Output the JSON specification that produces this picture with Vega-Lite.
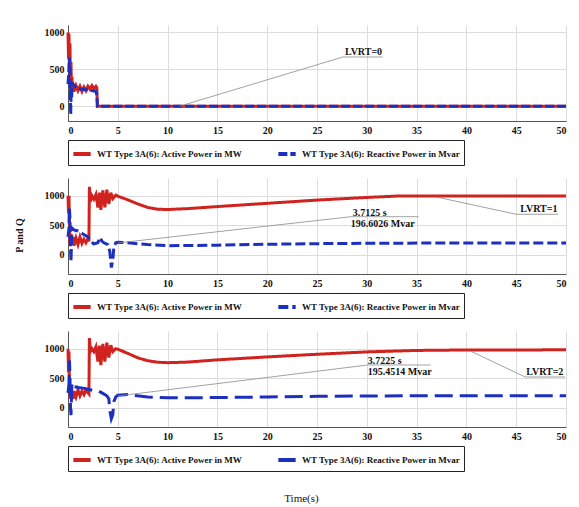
{
  "$schema": "https://vega.github.io/schema/vega-lite/v6.json",
  "padding": {"left": 14, "top": 25, "right": 5, "bottom": 5},
  "background": "white",
  "spacing": 12,
  "config": {
    "view": {"stroke": null},
    "font": "Liberation Serif",
    "axis": {
      "labelFont": "Liberation Serif", "labelFontWeight": "bold", "labelFontSize": 10, "labelColor": "#111",
      "domainColor": "#555", "gridColor": "#dcdcdc", "tickSize": 0, "format": "d",
      "titleFont": "Liberation Serif", "titleColor": "#111"
    },
    "axisX": {"labelPadding": 4},
    "axisY": {"labelPadding": 4},
    "legend": {
      "orient": "none", "legendX": 0, "legendY": 115, "direction": "horizontal", "title": null,
      "labelFont": "Liberation Serif", "labelFontWeight": "bold", "labelFontSize": 9, "labelColor": "#111", "labelLimit": 0,
      "symbolType": "stroke", "symbolSize": 300, "symbolStrokeWidth": 4, "labelOffset": 4,
      "strokeColor": "#222", "fillColor": "white", "padding": 3, "columnPadding": 27
    }
  },
  "datasets": {
    "lines": [
      {"p":1,"s":"P","t":0,"v":1000},{"p":1,"s":"P","t":0.05,"v":650},{"p":1,"s":"P","t":0.1,"v":980},{"p":1,"s":"P","t":0.15,"v":350},{"p":1,"s":"P","t":0.2,"v":850},{"p":1,"s":"P","t":0.25,"v":200},{"p":1,"s":"P","t":0.3,"v":600},{"p":1,"s":"P","t":0.35,"v":180},{"p":1,"s":"P","t":0.4,"v":400},{"p":1,"s":"P","t":0.45,"v":220},{"p":1,"s":"P","t":0.5,"v":320},{"p":1,"s":"P","t":0.6,"v":200},{"p":1,"s":"P","t":0.8,"v":280},{"p":1,"s":"P","t":1.0,"v":210},{"p":1,"s":"P","t":1.2,"v":270},{"p":1,"s":"P","t":1.4,"v":200},{"p":1,"s":"P","t":1.6,"v":260},{"p":1,"s":"P","t":1.8,"v":210},{"p":1,"s":"P","t":2.0,"v":270},{"p":1,"s":"P","t":2.2,"v":230},{"p":1,"s":"P","t":2.4,"v":280},{"p":1,"s":"P","t":2.6,"v":240},{"p":1,"s":"P","t":2.8,"v":270},{"p":1,"s":"P","t":2.9,"v":250},{"p":1,"s":"P","t":2.95,"v":0},{"p":1,"s":"P","t":50,"v":0},
      {"p":1,"s":"Q","t":0,"v":300},{"p":1,"s":"Q","t":0.08,"v":450},{"p":1,"s":"Q","t":0.13,"v":660},{"p":1,"s":"Q","t":0.18,"v":550},{"p":1,"s":"Q","t":0.22,"v":200},{"p":1,"s":"Q","t":0.27,"v":-110},{"p":1,"s":"Q","t":0.32,"v":250},{"p":1,"s":"Q","t":0.37,"v":120},{"p":1,"s":"Q","t":0.42,"v":320},{"p":1,"s":"Q","t":0.55,"v":280},{"p":1,"s":"Q","t":0.8,"v":260},{"p":1,"s":"Q","t":1.0,"v":240},{"p":1,"s":"Q","t":1.5,"v":230},{"p":1,"s":"Q","t":2.0,"v":220},{"p":1,"s":"Q","t":2.5,"v":210},{"p":1,"s":"Q","t":2.8,"v":200},{"p":1,"s":"Q","t":2.9,"v":150},{"p":1,"s":"Q","t":2.95,"v":0},{"p":1,"s":"Q","t":50,"v":0},
      {"p":2,"s":"P","t":0,"v":1000},{"p":2,"s":"P","t":0.05,"v":700},{"p":2,"s":"P","t":0.1,"v":1000},{"p":2,"s":"P","t":0.15,"v":400},{"p":2,"s":"P","t":0.2,"v":150},{"p":2,"s":"P","t":0.3,"v":350},{"p":2,"s":"P","t":0.4,"v":180},{"p":2,"s":"P","t":0.5,"v":300},{"p":2,"s":"P","t":0.6,"v":150},{"p":2,"s":"P","t":0.8,"v":280},{"p":2,"s":"P","t":1.0,"v":170},{"p":2,"s":"P","t":1.2,"v":300},{"p":2,"s":"P","t":1.4,"v":190},{"p":2,"s":"P","t":1.6,"v":260},{"p":2,"s":"P","t":1.8,"v":200},{"p":2,"s":"P","t":2.0,"v":270},{"p":2,"s":"P","t":2.1,"v":220},{"p":2,"s":"P","t":2.15,"v":1150},{"p":2,"s":"P","t":2.25,"v":900},{"p":2,"s":"P","t":2.4,"v":1000},{"p":2,"s":"P","t":2.6,"v":940},{"p":2,"s":"P","t":2.8,"v":1020},{"p":2,"s":"P","t":3.0,"v":800},{"p":2,"s":"P","t":3.15,"v":1050},{"p":2,"s":"P","t":3.3,"v":760},{"p":2,"s":"P","t":3.5,"v":1090},{"p":2,"s":"P","t":3.7,"v":800},{"p":2,"s":"P","t":3.9,"v":1100},{"p":2,"s":"P","t":4.1,"v":860},{"p":2,"s":"P","t":4.3,"v":1050},{"p":2,"s":"P","t":4.5,"v":950},{"p":2,"s":"P","t":4.8,"v":1010},{"p":2,"s":"P","t":5,"v":990},{"p":2,"s":"P","t":6,"v":930},{"p":2,"s":"P","t":7,"v":860},{"p":2,"s":"P","t":8,"v":800},{"p":2,"s":"P","t":9,"v":770},{"p":2,"s":"P","t":10,"v":765},{"p":2,"s":"P","t":12,"v":780},{"p":2,"s":"P","t":15,"v":815},{"p":2,"s":"P","t":20,"v":870},{"p":2,"s":"P","t":25,"v":925},{"p":2,"s":"P","t":30,"v":970},{"p":2,"s":"P","t":33,"v":993},{"p":2,"s":"P","t":40,"v":995},{"p":2,"s":"P","t":50,"v":995},
      {"p":2,"s":"Q","t":0,"v":300},{"p":2,"s":"Q","t":0.1,"v":450},{"p":2,"s":"Q","t":0.15,"v":780},{"p":2,"s":"Q","t":0.2,"v":600},{"p":2,"s":"Q","t":0.25,"v":100},{"p":2,"s":"Q","t":0.3,"v":-120},{"p":2,"s":"Q","t":0.35,"v":200},{"p":2,"s":"Q","t":0.4,"v":450},{"p":2,"s":"Q","t":0.6,"v":420},{"p":2,"s":"Q","t":1.0,"v":400},{"p":2,"s":"Q","t":1.5,"v":350},{"p":2,"s":"Q","t":2.0,"v":300},{"p":2,"s":"Q","t":2.3,"v":220},{"p":2,"s":"Q","t":2.6,"v":180},{"p":2,"s":"Q","t":3.0,"v":200},{"p":2,"s":"Q","t":3.2,"v":290},{"p":2,"s":"Q","t":3.4,"v":230},{"p":2,"s":"Q","t":3.6,"v":200},{"p":2,"s":"Q","t":4.0,"v":170},{"p":2,"s":"Q","t":4.2,"v":50},{"p":2,"s":"Q","t":4.35,"v":-220},{"p":2,"s":"Q","t":4.5,"v":-100},{"p":2,"s":"Q","t":4.6,"v":120},{"p":2,"s":"Q","t":4.8,"v":200},{"p":2,"s":"Q","t":5,"v":210},{"p":2,"s":"Q","t":6,"v":200},{"p":2,"s":"Q","t":8,"v":170},{"p":2,"s":"Q","t":10,"v":150},{"p":2,"s":"Q","t":15,"v":160},{"p":2,"s":"Q","t":20,"v":175},{"p":2,"s":"Q","t":25,"v":185},{"p":2,"s":"Q","t":30,"v":192},{"p":2,"s":"Q","t":40,"v":197},{"p":2,"s":"Q","t":50,"v":197},
      {"p":3,"s":"P","t":0,"v":1000},{"p":3,"s":"P","t":0.05,"v":600},{"p":3,"s":"P","t":0.1,"v":950},{"p":3,"s":"P","t":0.15,"v":300},{"p":3,"s":"P","t":0.2,"v":150},{"p":3,"s":"P","t":0.3,"v":300},{"p":3,"s":"P","t":0.4,"v":200},{"p":3,"s":"P","t":0.5,"v":150},{"p":3,"s":"P","t":0.6,"v":280},{"p":3,"s":"P","t":0.8,"v":180},{"p":3,"s":"P","t":1.0,"v":300},{"p":3,"s":"P","t":1.2,"v":200},{"p":3,"s":"P","t":1.4,"v":280},{"p":3,"s":"P","t":1.6,"v":220},{"p":3,"s":"P","t":1.8,"v":300},{"p":3,"s":"P","t":2.0,"v":250},{"p":3,"s":"P","t":2.1,"v":230},{"p":3,"s":"P","t":2.15,"v":1180},{"p":3,"s":"P","t":2.25,"v":950},{"p":3,"s":"P","t":2.4,"v":1000},{"p":3,"s":"P","t":2.6,"v":950},{"p":3,"s":"P","t":2.8,"v":1030},{"p":3,"s":"P","t":3.0,"v":780},{"p":3,"s":"P","t":3.15,"v":1050},{"p":3,"s":"P","t":3.3,"v":720},{"p":3,"s":"P","t":3.5,"v":1080},{"p":3,"s":"P","t":3.7,"v":780},{"p":3,"s":"P","t":3.9,"v":1100},{"p":3,"s":"P","t":4.1,"v":850},{"p":3,"s":"P","t":4.3,"v":1060},{"p":3,"s":"P","t":4.5,"v":950},{"p":3,"s":"P","t":4.8,"v":1000},{"p":3,"s":"P","t":5,"v":990},{"p":3,"s":"P","t":6,"v":920},{"p":3,"s":"P","t":7,"v":845},{"p":3,"s":"P","t":8,"v":795},{"p":3,"s":"P","t":9,"v":770},{"p":3,"s":"P","t":10,"v":762},{"p":3,"s":"P","t":12,"v":772},{"p":3,"s":"P","t":15,"v":810},{"p":3,"s":"P","t":20,"v":860},{"p":3,"s":"P","t":25,"v":905},{"p":3,"s":"P","t":30,"v":945},{"p":3,"s":"P","t":35,"v":970},{"p":3,"s":"P","t":40,"v":978},{"p":3,"s":"P","t":50,"v":980},
      {"p":3,"s":"Q","t":0,"v":250},{"p":3,"s":"Q","t":0.1,"v":400},{"p":3,"s":"Q","t":0.15,"v":800},{"p":3,"s":"Q","t":0.2,"v":500},{"p":3,"s":"Q","t":0.25,"v":0},{"p":3,"s":"Q","t":0.3,"v":-130},{"p":3,"s":"Q","t":0.35,"v":200},{"p":3,"s":"Q","t":0.4,"v":420},{"p":3,"s":"Q","t":0.5,"v":360},{"p":3,"s":"Q","t":0.8,"v":350},{"p":3,"s":"Q","t":1.0,"v":340},{"p":3,"s":"Q","t":1.5,"v":330},{"p":3,"s":"Q","t":2.0,"v":310},{"p":3,"s":"Q","t":2.5,"v":290},{"p":3,"s":"Q","t":3.0,"v":285},{"p":3,"s":"Q","t":3.5,"v":240},{"p":3,"s":"Q","t":3.9,"v":200},{"p":3,"s":"Q","t":4.1,"v":150},{"p":3,"s":"Q","t":4.2,"v":-50},{"p":3,"s":"Q","t":4.35,"v":-190},{"p":3,"s":"Q","t":4.5,"v":-120},{"p":3,"s":"Q","t":4.6,"v":100},{"p":3,"s":"Q","t":4.8,"v":180},{"p":3,"s":"Q","t":5,"v":210},{"p":3,"s":"Q","t":6,"v":220},{"p":3,"s":"Q","t":8,"v":180},{"p":3,"s":"Q","t":10,"v":165},{"p":3,"s":"Q","t":15,"v":170},{"p":3,"s":"Q","t":20,"v":180},{"p":3,"s":"Q","t":25,"v":190},{"p":3,"s":"Q","t":30,"v":198},{"p":3,"s":"Q","t":40,"v":200},{"p":3,"s":"Q","t":50,"v":200}
    ],
    "ann": [
      {"p":1,"t":11.2,"v":0,"t2":27.6,"v2":667},{"p":1,"t":27.6,"v":667,"t2":31.6,"v2":667},
      {"p":2,"t":5,"v":197,"t2":28.4,"v2":643},{"p":2,"t":28.4,"v":643,"t2":35.2,"v2":643},{"p":2,"t":37.1,"v":973,"t2":45,"v2":684},{"p":2,"t":45,"v":684,"t2":49.2,"v2":684},
      {"p":3,"t":5,"v":197,"t2":30.1,"v2":723},{"p":3,"t":30.1,"v":723,"t2":36.4,"v2":723},{"p":3,"t":40.4,"v":960,"t2":45.9,"v2":519},{"p":3,"t":45.9,"v":519,"t2":49.9,"v2":519}
    ],
    "txt": [
      {"p":1,"t":27.8,"v":734,"label":"LVRT=0"},
      {"p":2,"t":28.6,"v":701,"label":"3.7125 s"},{"p":2,"t":28.4,"v":520,"label":"196.6026 Mvar"},{"p":2,"t":45.4,"v":769,"label":"LVRT=1"},
      {"p":3,"t":30.1,"v":796,"label":"3.7225 s"},{"p":3,"t":30.1,"v":610,"label":"195.4514 Mvar"},{"p":3,"t":46,"v":604,"label":"LVRT=2"}
    ]
  },
  "resolve": {
    "scale": {"x": "independent", "y": "independent", "color": "independent", "strokeDash": "independent"},
    "legend": {"color": "independent", "strokeDash": "independent"}
  },
  "vconcat": [
    {
      "width": 498, "height": 96,
      "layer": [
        {
          "data": {"name": "lines"},
          "transform": [{"filter": "datum.p == 1"}],
          "mark": {"type": "line", "strokeWidth": 3},
          "encoding": {
            "x": {"field": "t", "type": "quantitative", "scale": {"domain": [0, 50], "nice": false}, "axis": {"values": [0,5,10,15,20,25,30,35,40,45,50], "title": null}},
            "y": {"field": "v", "type": "quantitative", "scale": {"domain": [-200, 1100], "nice": false, "zero": false}, "axis": {"values": [0, 500, 1000], "title": null}},
            "color": {"field": "s", "type": "nominal", "scale": {"domain": ["P", "Q"], "range": ["#d0231f", "#1c2fbf"]}, "legend": {"labelExpr": "datum.label == 'P' ? 'WT Type 3A(6): Active Power in MW' : 'WT Type 3A(6): Reactive Power in Mvar'"}},
            "strokeDash": {"field": "s", "type": "nominal", "scale": {"domain": ["P", "Q"], "range": [[1, 0], [9, 3]]}, "legend": {"labelExpr": "datum.label == 'P' ? 'WT Type 3A(6): Active Power in MW' : 'WT Type 3A(6): Reactive Power in Mvar'"}}
          }
        },
        {
          "data": {"name": "ann"},
          "transform": [{"filter": "datum.p == 1"}],
          "mark": {"type": "rule", "color": "#8a8a8a", "strokeWidth": 0.8},
          "encoding": {"x": {"field": "t", "type": "quantitative"}, "y": {"field": "v", "type": "quantitative"}, "x2": {"field": "t2"}, "y2": {"field": "v2"}}
        },
        {
          "data": {"name": "txt"},
          "transform": [{"filter": "datum.p == 1"}],
          "mark": {"type": "text", "align": "left", "baseline": "middle", "font": "Liberation Serif", "fontWeight": "bold", "fontSize": 10, "color": "#111"},
          "encoding": {"x": {"field": "t", "type": "quantitative"}, "y": {"field": "v", "type": "quantitative"}, "text": {"field": "label"}}
        }
      ]
    },
    {
      "width": 498, "height": 96,
      "layer": [
        {
          "data": {"name": "lines"},
          "transform": [{"filter": "datum.p == 2"}],
          "mark": {"type": "line", "strokeWidth": 3},
          "encoding": {
            "x": {"field": "t", "type": "quantitative", "scale": {"domain": [0, 50], "nice": false}, "axis": {"values": [0,5,10,15,20,25,30,35,40,45,50], "title": null}},
            "y": {"field": "v", "type": "quantitative", "scale": {"domain": [-330, 1300], "nice": false, "zero": false}, "axis": {"values": [0, 500, 1000], "title": "P and Q", "titleFontWeight": "bold", "titleFontSize": 10, "titlePadding": 20, "titleY": 57}},
            "color": {"field": "s", "type": "nominal", "scale": {"domain": ["P", "Q"], "range": ["#d0231f", "#1c2fbf"]}, "legend": {"labelExpr": "datum.label == 'P' ? 'WT Type 3A(6): Active Power in MW' : 'WT Type 3A(6): Reactive Power in Mvar'"}},
            "strokeDash": {"field": "s", "type": "nominal", "scale": {"domain": ["P", "Q"], "range": [[1, 0], [10, 4]]}, "legend": {"labelExpr": "datum.label == 'P' ? 'WT Type 3A(6): Active Power in MW' : 'WT Type 3A(6): Reactive Power in Mvar'"}}
          }
        },
        {
          "data": {"name": "ann"},
          "transform": [{"filter": "datum.p == 2"}],
          "mark": {"type": "rule", "color": "#8a8a8a", "strokeWidth": 0.8},
          "encoding": {"x": {"field": "t", "type": "quantitative"}, "y": {"field": "v", "type": "quantitative"}, "x2": {"field": "t2"}, "y2": {"field": "v2"}}
        },
        {
          "data": {"name": "txt"},
          "transform": [{"filter": "datum.p == 2"}],
          "mark": {"type": "text", "align": "left", "baseline": "middle", "font": "Liberation Serif", "fontWeight": "bold", "fontSize": 10, "color": "#111"},
          "encoding": {"x": {"field": "t", "type": "quantitative"}, "y": {"field": "v", "type": "quantitative"}, "text": {"field": "label"}}
        }
      ]
    },
    {
      "width": 498, "height": 96,
      "layer": [
        {
          "data": {"name": "lines"},
          "transform": [{"filter": "datum.p == 3"}],
          "mark": {"type": "line", "strokeWidth": 3},
          "encoding": {
            "x": {"field": "t", "type": "quantitative", "scale": {"domain": [0, 50], "nice": false}, "axis": {"values": [0,5,10,15,20,25,30,35,40,45,50], "title": "Time(s)", "titleFontWeight": "normal", "titleFontSize": 11, "titleX": 233, "titleY": 71, "titleBaseline": "middle"}},
            "y": {"field": "v", "type": "quantitative", "scale": {"domain": [-330, 1300], "nice": false, "zero": false}, "axis": {"values": [0, 500, 1000], "title": null}},
            "color": {"field": "s", "type": "nominal", "scale": {"domain": ["P", "Q"], "range": ["#d0231f", "#1c2fbf"]}, "legend": {"labelExpr": "datum.label == 'P' ? 'WT Type 3A(6): Active Power in MW' : 'WT Type 3A(6): Reactive Power in Mvar'"}},
            "strokeDash": {"field": "s", "type": "nominal", "scale": {"domain": ["P", "Q"], "range": [[1, 0], [18, 7]]}, "legend": {"labelExpr": "datum.label == 'P' ? 'WT Type 3A(6): Active Power in MW' : 'WT Type 3A(6): Reactive Power in Mvar'"}}
          }
        },
        {
          "data": {"name": "ann"},
          "transform": [{"filter": "datum.p == 3"}],
          "mark": {"type": "rule", "color": "#8a8a8a", "strokeWidth": 0.8},
          "encoding": {"x": {"field": "t", "type": "quantitative"}, "y": {"field": "v", "type": "quantitative"}, "x2": {"field": "t2"}, "y2": {"field": "v2"}}
        },
        {
          "data": {"name": "txt"},
          "transform": [{"filter": "datum.p == 3"}],
          "mark": {"type": "text", "align": "left", "baseline": "middle", "font": "Liberation Serif", "fontWeight": "bold", "fontSize": 10, "color": "#111"},
          "encoding": {"x": {"field": "t", "type": "quantitative"}, "y": {"field": "v", "type": "quantitative"}, "text": {"field": "label"}}
        }
      ]
    }
  ]
}
